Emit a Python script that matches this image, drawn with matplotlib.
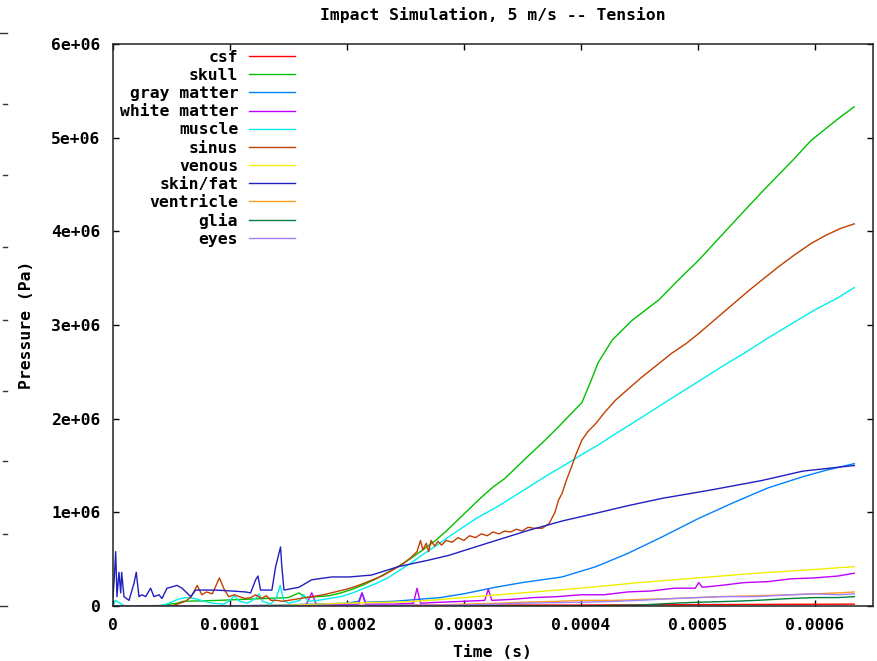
import numpy as np
import matplotlib
matplotlib.use("Agg")
import matplotlib.pyplot as plt
from matplotlib.lines import Line2D

# times in microseconds, pressures in MPa
csf_t = [0, 100, 200, 300, 400, 500, 634]
csf_p = [0.0, 0.0, 0.005, 0.01, 0.01, 0.015, 0.02]

skull_t = [0, 10, 40, 55, 60, 75, 90, 110, 130, 150, 159, 165, 175, 185, 195, 205, 215, 225,
           235, 245, 255, 265, 276, 285, 295, 305, 315, 325, 335, 345, 355, 367, 380, 390,
           401, 409, 415, 427, 444, 467, 485, 500, 520, 540, 555, 569, 583, 597, 610, 622, 634]
skull_p = [0.0, 0.0, 0.005, 0.03, 0.05, 0.055, 0.06, 0.07, 0.08, 0.09, 0.14, 0.09, 0.1, 0.11,
           0.14, 0.18, 0.23, 0.29, 0.36, 0.43, 0.51, 0.6, 0.7, 0.8, 0.92, 1.04, 1.16, 1.27,
           1.36, 1.48, 1.6, 1.74, 1.9, 2.03, 2.17, 2.41, 2.6, 2.84, 3.05, 3.27, 3.5, 3.68,
           3.95, 4.22, 4.42, 4.6, 4.78, 4.97, 5.1, 5.22, 5.33]

gray_t = [0, 100, 140, 170, 200, 210, 213, 216, 240, 260, 280, 300, 327, 350, 384, 413, 440,
          470, 500, 530, 560, 590, 610, 634]
gray_p = [0.0, 0.0, 0.01, 0.02, 0.03, 0.05, 0.14, 0.04, 0.05, 0.07, 0.09, 0.13, 0.2, 0.25,
          0.31, 0.42, 0.56, 0.74, 0.93, 1.1, 1.26, 1.38, 1.45, 1.52]

white_t = [0, 160, 165, 170, 174, 210, 213, 216, 240, 257, 260, 263, 280, 300, 318, 321, 324,
           340, 360, 380, 400, 420, 440, 460, 480, 498, 501, 504, 520, 540, 560, 580, 600,
           620, 634]
white_p = [0.0, 0.0, 0.01, 0.14, 0.01, 0.02, 0.14, 0.02, 0.02, 0.03, 0.19, 0.03, 0.04, 0.05,
           0.06, 0.18, 0.06, 0.07, 0.09, 0.1, 0.12, 0.12, 0.15, 0.16, 0.19, 0.19, 0.25, 0.2,
           0.22, 0.25, 0.26, 0.29, 0.3, 0.32, 0.35]

muscle_t = [0, 2, 6, 10, 40, 48, 55, 62, 70, 78, 85, 95, 100, 104, 108, 115, 122, 125, 128,
            135, 140, 143, 146, 150, 160, 163, 167, 175, 185, 195, 205, 215, 225, 235, 245,
            255, 265, 276, 285, 298, 310, 320, 330, 344, 358, 372, 387, 400, 415, 430, 444,
            458, 473, 487, 501, 520, 540, 560, 580, 600, 620, 634]
muscle_p = [0.0, 0.06, 0.03, 0.0, 0.0, 0.03, 0.07, 0.09, 0.08, 0.05, 0.03, 0.02, 0.06, 0.11,
            0.05, 0.03, 0.08, 0.13, 0.05, 0.02, 0.1, 0.22, 0.06, 0.03, 0.06, 0.12, 0.05, 0.06,
            0.08, 0.1, 0.14, 0.19, 0.24, 0.3, 0.38, 0.46, 0.55, 0.64, 0.72, 0.83, 0.93, 1.0,
            1.07, 1.18, 1.29, 1.4, 1.51, 1.61, 1.72, 1.84, 1.95, 2.06, 2.18, 2.29, 2.4, 2.55,
            2.7, 2.86, 3.01, 3.16, 3.29, 3.4]

sinus_t = [0, 50, 62, 67, 72, 76, 80, 85, 91, 95, 99, 104, 108, 113, 118, 122, 127, 131, 135,
           140, 145, 150, 160, 170, 180, 190, 200, 210, 220, 230, 240, 248, 255, 260, 263,
           265, 268, 270, 272, 275, 278, 281, 285, 290, 295, 300, 305, 310, 315, 320, 325,
           330, 335, 340, 345, 350, 355, 360, 367, 373, 378, 381, 384, 388, 392, 396, 401,
           406, 413, 420, 430, 440, 452, 465, 478, 490, 501, 515, 530, 545, 557, 569, 583,
           597, 610, 622, 634]
sinus_p = [0.0, 0.0, 0.05, 0.1, 0.22, 0.12, 0.15, 0.13, 0.3, 0.18, 0.1, 0.12, 0.1, 0.08, 0.09,
           0.12, 0.08, 0.11, 0.06, 0.06, 0.05, 0.06, 0.08, 0.1, 0.12, 0.15, 0.18, 0.22, 0.27,
           0.32, 0.39, 0.45, 0.52, 0.58, 0.7, 0.6, 0.67, 0.58, 0.7, 0.64, 0.69, 0.65, 0.7,
           0.68, 0.73, 0.7, 0.75, 0.73, 0.77, 0.75, 0.79, 0.77, 0.8, 0.79, 0.82, 0.8, 0.84,
           0.83, 0.83, 0.88, 1.0, 1.13, 1.2, 1.35, 1.48, 1.62, 1.77, 1.86, 1.95, 2.06, 2.2,
           2.31, 2.44, 2.57, 2.7, 2.8, 2.91, 3.06, 3.22, 3.38, 3.5, 3.62, 3.75, 3.87, 3.96,
           4.03, 4.08]

venous_t = [0, 100, 150, 200, 250, 270, 300, 350, 400, 450, 500, 550, 600, 634]
venous_p = [0.0, 0.0, 0.01, 0.03, 0.045, 0.06, 0.09, 0.14, 0.19, 0.25, 0.3, 0.35, 0.39, 0.42]

skin_t = [0, 1, 2.3, 3.4, 5.1, 6.6, 7.4, 9.4, 13.7, 15.1, 17.9, 19.9, 22.2, 24.8, 27.9, 32.2,
          35, 39.3, 41.9, 46.2, 49.3, 54.7, 59, 63.2, 66.4, 70.7, 79.2, 87.8, 101.7, 113.4,
          117.7, 122, 124, 126.2, 135.9, 139.1, 143.3, 144.4, 146.2, 159, 170, 187, 202, 221,
          244, 270, 287, 320, 356, 385, 413, 440, 470, 512, 555, 590, 634]
skin_p = [0.1, 0.28, 0.58, 0.1, 0.36, 0.14, 0.36, 0.1, 0.06, 0.12, 0.24, 0.36, 0.1, 0.12, 0.1,
          0.19, 0.1, 0.12, 0.08, 0.19, 0.2, 0.22, 0.19, 0.14, 0.1, 0.17, 0.17, 0.17, 0.16,
          0.15, 0.14, 0.28, 0.32, 0.17, 0.17, 0.42, 0.63, 0.42, 0.17, 0.2, 0.28, 0.31, 0.31,
          0.33, 0.42, 0.49, 0.54, 0.67, 0.81, 0.91, 0.99, 1.07, 1.15, 1.24, 1.34, 1.44, 1.5]

ventricle_t = [0, 250, 300, 330, 350, 380, 400, 430, 450, 480, 500, 520, 550, 580, 600, 620, 634]
ventricle_p = [0.0, 0.0, 0.02, 0.03, 0.04, 0.05, 0.06, 0.06, 0.07, 0.08, 0.09, 0.1, 0.11,
               0.12, 0.13, 0.14, 0.15]

glia_t = [0, 400, 450, 480, 500, 530, 550, 580, 600, 620, 634]
glia_p = [0.0, 0.0, 0.01, 0.03, 0.04, 0.05, 0.06, 0.08, 0.09, 0.09, 0.1]

eyes_t = [0, 300, 350, 400, 430, 450, 480, 500, 520, 550, 580, 600, 620, 634]
eyes_p = [0.0, 0.01, 0.03, 0.04, 0.05, 0.06, 0.08, 0.09, 0.1, 0.1, 0.12, 0.13, 0.12, 0.13]

series = [
    ("csf", csf_t, csf_p, "#ff0000"),
    ("skull", skull_t, skull_p, "#00c000"),
    ("gray matter", gray_t, gray_p, "#0080ff"),
    ("white matter", white_t, white_p, "#c000ff"),
    ("muscle", muscle_t, muscle_p, "#00eeee"),
    ("sinus", sinus_t, sinus_p, "#c04000"),
    ("venous", venous_t, venous_p, "#eeee00"),
    ("skin/fat", skin_t, skin_p, "#2020c0"),
    ("ventricle", ventricle_t, ventricle_p, "#ffa020"),
    ("glia", glia_t, glia_p, "#008040"),
    ("eyes", eyes_t, eyes_p, "#a080ff"),
]

x_ticks = [0, 0.0001, 0.0002, 0.0003, 0.0004, 0.0005, 0.0006]
x_labels = ["0", "0.0001", "0.0002", "0.0003", "0.0004", "0.0005", "0.0006"]
y_ticks = [0, 1e6, 2e6, 3e6, 4e6, 5e6, 6e6]
y_labels = ["0", "1e+06", "2e+06", "3e+06", "4e+06", "5e+06", "6e+06"]

plt.rcParams['font.family'] = ['DejaVu Sans Mono']
plt.rcParams['font.weight'] = 'bold'
fs = 11.8

W, H = 878, 661
fig = plt.figure(figsize=(W / 100, H / 100), dpi=100)
ax = fig.add_axes([113 / W, (H - 606) / H, 760 / W, 562 / H])

for name, t, p, col in series:
    ax.plot(np.array(t) * 1e-6, np.array(p) * 1e6, color=col, lw=1.0, label=name)

ax.set_xlim(0, 0.00065)
ax.set_ylim(0, 6e6)
ax.set_xticks(x_ticks)
ax.set_xticklabels(x_labels)
ax.set_yticks(y_ticks)
ax.set_yticklabels(y_labels)
ax.tick_params(direction='in', length=4.5, width=1, top=True, right=True, pad=9, labelsize=fs)
for s in ax.spines.values():
    s.set_linewidth(1.1)
    s.set_color('#222222')

ax.set_title("Impact Simulation, 5 m/s -- Tension", fontsize=fs, fontweight='bold', pad=17)
ax.set_xlabel("Time (s)", fontsize=fs, fontweight='bold', labelpad=8)
ax.set_ylabel("Pressure (Pa)", fontsize=fs, fontweight='bold', labelpad=12)

leg = ax.legend(loc='upper right', bbox_to_anchor=(182 / 760, 1 - 6 / 562), frameon=False,
                markerfirst=False, handlelength=2.8, handletextpad=0.67, labelspacing=0.19,
                borderpad=0, borderaxespad=0, fontsize=fs)

# stray ticks from a neighbouring plot at the left edge
for y in [33, 104, 175, 247, 320, 391, 461, 534, 606]:
    x0 = 0 if y in (33, 606) else 3
    fig.add_artist(Line2D([x0 / W, 7 / W], [1 - y / H, 1 - y / H], color='#333333', lw=1))

fig.savefig("out.png", dpi=100)
